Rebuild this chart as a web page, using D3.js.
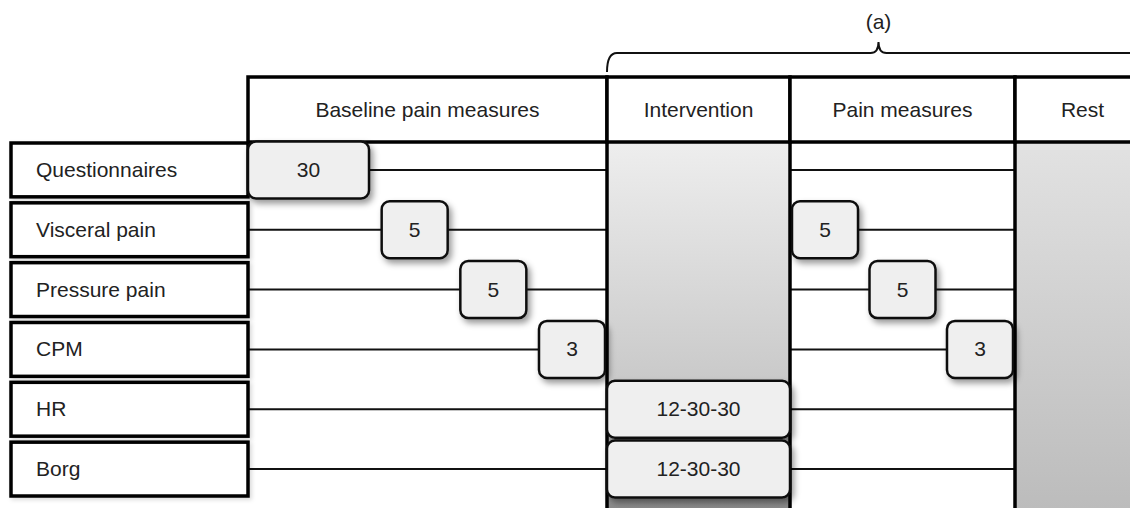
<!DOCTYPE html>
<html>
<head>
<meta charset="utf-8">
<script src="https://cdn.jsdelivr.net/npm/d3@7"></script>
<style>
  body { margin: 0; background: #fff; }
  text { font-family: "Liberation Sans", Arial, sans-serif; fill: #222; font-size: 21px; }
</style>
</head>
<body>
<script>
// phases (columns) and measures (rows)
var phases = ["Baseline pain measures", "Intervention", "Pain measures", "Rest"];
var measures = ["Questionnaires", "Visceral pain", "Pressure pain", "CPM", "HR", "Borg"];
// minutes per measure in each phase (null = not measured there)
var baselineMinutes = [30, 5, 5, 3, null, null];
var interventionMinutes = [null, null, null, null, "12-30-30", "12-30-30"];
var painMinutes = [null, 5, 5, 3, null, null];
var braceLabel = "(a)";

var width = 1130, height = 508;
var headTop = 77, headBottom = 142;

var svg = d3.select("body").append("svg")
	.attr("width", width)
	.attr("height", height);

var defs = svg.append("defs");
var shadow = defs.append("filter").attr("id", "shadow")
	.attr("x", "-20%").attr("y", "-20%").attr("width", "150%").attr("height", "160%");
shadow.append("feDropShadow").attr("dx", 3).attr("dy", 4)
	.attr("stdDeviation", 3).attr("flood-color", "#000").attr("flood-opacity", 0.4);
var soft = defs.append("filter").attr("id", "soft")
	.attr("x", "-5%").attr("y", "-20%").attr("width", "115%").attr("height", "150%");
soft.append("feDropShadow").attr("dx", 2).attr("dy", 2)
	.attr("stdDeviation", 2).attr("flood-color", "#000").attr("flood-opacity", 0.15);

var gInt = defs.append("linearGradient").attr("id", "gradInt")
	.attr("x1", 0).attr("y1", 0).attr("x2", 0).attr("y2", 1);
gInt.append("stop").attr("offset", 0).attr("stop-color", "#eeeeee");
gInt.append("stop").attr("offset", 0.66).attr("stop-color", "#c9c9c9");
gInt.append("stop").attr("offset", 1).attr("stop-color", "#8a8a8a");
var gRest = defs.append("linearGradient").attr("id", "gradRest")
	.attr("x1", 0).attr("y1", 0).attr("x2", 0).attr("y2", 1);
gRest.append("stop").attr("offset", 0).attr("stop-color", "#e2e2e2");
gRest.append("stop").attr("offset", 1).attr("stop-color", "#bcbcbc");

// column edges: phase index -> x
var x = d3.scaleLinear().domain([0, 1, 2, 3, 4]).range([248, 607, 790, 1015, 1150]);
var y = d3.scaleBand().domain(measures).range([143, 496]).paddingInner(0.1);
var boxW = d3.scaleThreshold().domain([10]).range([66, 121]);
var boxH = 57;
function cy(m) { return y(m) + y.bandwidth() / 2; }

// brace with label over the intervention .. rest phases
var bx0 = x(1), bx1 = x(4), bmid = (bx0 + bx1) / 2;
var p = d3.path();
p.moveTo(bx0, 72);
p.quadraticCurveTo(bx0, 53, bx0 + 10, 53);
p.lineTo(bmid - 8, 53);
p.quadraticCurveTo(bmid, 53, bmid, 42);
p.quadraticCurveTo(bmid, 53, bmid + 8, 53);
p.lineTo(bx1, 53);
svg.append("path").attr("d", p.toString())
	.attr("fill", "none").attr("stroke", "#111").attr("stroke-width", 2);
svg.append("text").attr("x", bmid).attr("y", 29)
	.attr("text-anchor", "middle").text(braceLabel);

// row connector lines
svg.selectAll("line.row")
	.data(measures)
	.enter()
	.append("line")
	.attr("x1", x(0)).attr("x2", x(3))
	.attr("y1", cy).attr("y2", cy)
	.attr("stroke", "#111").attr("stroke-width", 2);

// shaded phases
svg.append("rect").attr("x", x(1)).attr("y", headBottom)
	.attr("width", x(2) - x(1)).attr("height", height - headBottom)
	.attr("fill", "url(#gradInt)");
svg.append("rect").attr("x", x(3)).attr("y", headBottom)
	.attr("width", x(4) - x(3)).attr("height", height - headBottom)
	.attr("fill", "url(#gradRest)").attr("filter", "url(#soft)");

// column borders
svg.selectAll("line.col")
	.data([1, 2, 3])
	.enter()
	.append("line")
	.attr("x1", function(d){ return x(d); }).attr("x2", function(d){ return x(d); })
	.attr("y1", headTop).attr("y2", height + 5)
	.attr("stroke", "#000").attr("stroke-width", 3.5);

// phase headers
var heads = svg.selectAll("g.head")
	.data(phases)
	.enter()
	.append("g");
heads.append("rect")
	.attr("x", function(d, i){ return x(i); })
	.attr("y", headTop)
	.attr("width", function(d, i){ return x(i + 1) - x(i); })
	.attr("height", headBottom - headTop)
	.attr("fill", "#fff").attr("stroke", "#000").attr("stroke-width", 3.5);
heads.append("text")
	.attr("x", function(d, i){ return (x(i) + x(i + 1)) / 2; })
	.attr("y", (headTop + headBottom) / 2 + 7)
	.attr("text-anchor", "middle")
	.text(function(d){ return d; });

// measure label boxes
var labels = svg.selectAll("g.label")
	.data(measures)
	.enter()
	.append("g");
labels.append("rect")
	.attr("x", 11).attr("y", function(d){ return y(d); })
	.attr("width", x(0) - 11).attr("height", y.bandwidth())
	.attr("fill", "#fff").attr("stroke", "#000").attr("stroke-width", 3.5)
	.attr("filter", "url(#soft)");
labels.append("text")
	.attr("x", 36).attr("y", function(d){ return cy(d) + 7; })
	.text(function(d){ return d; });

// timed boxes spread across a phase
function spread(values, phase, fullWidth) {
	var items = [];
	measures.forEach(function(m, i) {
		if (values[i] != null) items.push({ m: m, v: values[i] });
	});
	var x0 = x(phase) + (phase ? 2 : 0), x1 = x(phase + 1) - 2;
	if (fullWidth) {
		items.forEach(function(d){ d.x = x(phase); d.w = x(phase + 1) - x(phase); });
		return items;
	}
	items.forEach(function(d){ d.w = boxW(d.v); });
	var total = d3.sum(items, function(d){ return d.w; });
	var gap = (x1 - x0 - total) / (items.length - 1);
	var pos = x0;
	items.forEach(function(d){ d.x = pos; pos += d.w + gap; });
	return items;
}

var boxes = spread(baselineMinutes, 0, false)
	.concat(spread(painMinutes, 2, false))
	.concat(spread(interventionMinutes, 1, true));

var b = svg.selectAll("g.box")
	.data(boxes)
	.enter()
	.append("g");
b.append("rect")
	.attr("x", function(d){ return d.x; })
	.attr("y", function(d){ return cy(d.m) - boxH / 2; })
	.attr("width", function(d){ return d.w; })
	.attr("height", boxH)
	.attr("rx", 8)
	.attr("fill", "#efefef").attr("stroke", "#111").attr("stroke-width", 2.5)
	.attr("filter", "url(#shadow)");
b.append("text")
	.attr("x", function(d){ return d.x + d.w / 2; })
	.attr("y", function(d){ return cy(d.m) + 7; })
	.attr("text-anchor", "middle")
	.text(function(d){ return d.v; });
</script>
</body>
</html>
